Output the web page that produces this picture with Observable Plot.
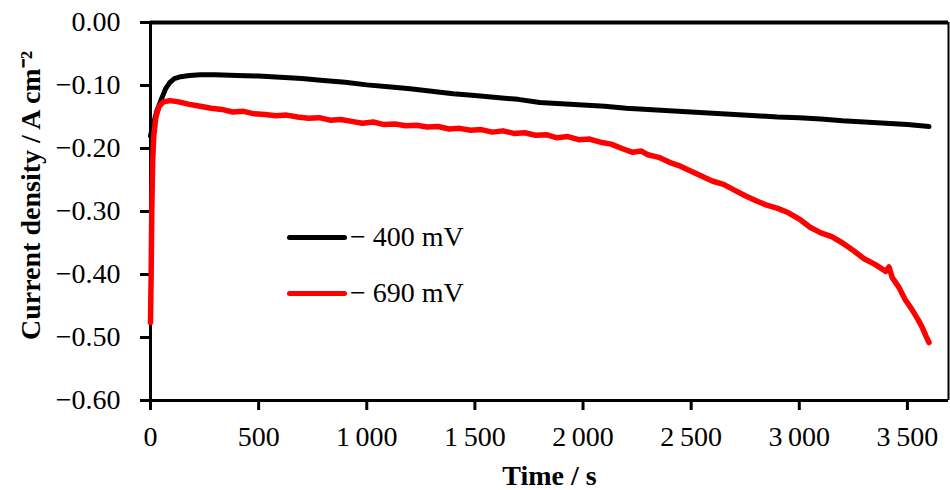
<!DOCTYPE html>
<html>
<head>
<meta charset="utf-8">
<script src="https://cdn.jsdelivr.net/npm/d3@7"></script>
<script src="https://cdn.jsdelivr.net/npm/@observablehq/plot@0.6"></script>
<style>
  html, body { margin: 0; padding: 0; background: #fff; }
  #wrap { position: relative; width: 950px; height: 490px; }
  #wrap svg [aria-label="x-axis label"] text,
  #wrap svg [aria-label="x-axis label"] { font-weight: bold; }
  .legend { position: absolute; left: 287px; top: 218px; font-family: "Palatino Linotype", "Book Antiqua", Palatino, "Liberation Serif", serif; font-size: 28px; color: #000; }
  .legend .row { display: flex; align-items: center; height: 38px; margin-bottom: 18px; }
  .legend .sw { display: inline-block; width: 60px; height: 5px; border-radius: 3px; margin-right: 3px; }
</style>
</head>
<body>
<div id="wrap"></div>
<script>
// Series: -400 mV (black)
const t400 = [0, 10, 30, 50, 70, 90, 110, 140, 180, 230, 300, 400, 500, 600, 700, 800, 900, 1000, 1100, 1200, 1300, 1400, 1500, 1600, 1700, 1800, 1900, 2000, 2100, 2200, 2300, 2400, 2500, 2600, 2700, 2800, 2900, 3000, 3100, 3200, 3300, 3400, 3500, 3600];
const j400 = [-0.180, -0.165, -0.140, -0.122, -0.105, -0.095, -0.089, -0.086, -0.084, -0.083, -0.083, -0.084, -0.085, -0.087, -0.089, -0.092, -0.095, -0.099, -0.102, -0.105, -0.109, -0.113, -0.116, -0.119, -0.122, -0.127, -0.129, -0.131, -0.133, -0.136, -0.138, -0.140, -0.142, -0.144, -0.146, -0.148, -0.150, -0.151, -0.153, -0.156, -0.158, -0.160, -0.162, -0.165];

// Series: -690 mV (red)
const t690 = [0, 3, 6, 10, 15, 25, 40, 60, 90, 130, 180, 230, 280, 330, 380, 430, 480, 530, 580, 630, 680, 730, 780, 830, 880, 930, 980, 1030, 1080, 1130, 1180, 1230, 1280, 1330, 1380, 1430, 1480, 1530, 1580, 1630, 1680, 1730, 1780, 1830, 1880, 1930, 1980, 2030, 2080, 2130, 2180, 2230, 2270, 2300, 2350, 2400, 2450, 2500, 2550, 2600, 2650, 2700, 2750, 2800, 2850, 2900, 2950, 3000, 3050, 3100, 3150, 3200, 3250, 3300, 3350, 3400, 3415, 3430, 3460, 3490, 3520, 3550, 3570, 3585, 3600];
const j690 = [-0.476, -0.400, -0.300, -0.220, -0.180, -0.150, -0.133, -0.126, -0.124, -0.126, -0.130, -0.133, -0.136, -0.138, -0.142, -0.141, -0.145, -0.146, -0.148, -0.147, -0.150, -0.152, -0.151, -0.155, -0.154, -0.157, -0.160, -0.158, -0.162, -0.161, -0.164, -0.163, -0.166, -0.165, -0.169, -0.168, -0.171, -0.170, -0.174, -0.172, -0.176, -0.175, -0.179, -0.178, -0.183, -0.181, -0.186, -0.185, -0.190, -0.193, -0.200, -0.206, -0.204, -0.210, -0.214, -0.222, -0.228, -0.236, -0.244, -0.252, -0.257, -0.266, -0.275, -0.283, -0.290, -0.295, -0.302, -0.312, -0.325, -0.334, -0.340, -0.350, -0.362, -0.375, -0.384, -0.395, -0.388, -0.405, -0.420, -0.440, -0.455, -0.472, -0.485, -0.497, -0.508];

const seriesNames = ["\u2212 400 mV", "\u2212 690 mV"];
const seriesColors = ["#000000", "#ff0000"];

const xTicks = [0, 500, 1000, 1500, 2000, 2500, 3000, 3500];
const yTicks = [0, -0.1, -0.2, -0.3, -0.4, -0.5, -0.6];
const xDomain = [0, 3690];
const yDomain = [-0.6, 0];
const xTitle = "Time / s";
const yTitle = "Current density / A cm\u207B\u00B2";

const d400 = t400.map((t, i) => ({t, j: j400[i]}));
const d690 = t690.map((t, i) => ({t, j: j690[i]}));

const loc = d3.formatLocale({decimal: ".", thousands: "\u2009", grouping: [3], currency: ["", ""], minus: "\u2212"});
const xFmt = v => v >= 1000 ? loc.format(",")(v) : String(v);
const yFmt = loc.format(".2f");

const font = '"Palatino Linotype", "Book Antiqua", Palatino, "Liberation Serif", serif';

const chart = Plot.plot({
  width: 950,
  height: 490,
  marginLeft: 150,
  marginRight: 2,
  marginTop: 22,
  marginBottom: 90,
  style: {fontFamily: font, fontSize: "28px", color: "#000", background: "#fff", overflow: "visible"},
  x: {domain: xDomain},
  y: {domain: yDomain},
  marks: [
    Plot.axisX({ticks: xTicks, tickFormat: xFmt, tickSize: 10, tickPadding: 16, strokeWidth: 3,
      label: xTitle, labelAnchor: "center", labelOffset: 84, labelArrow: "none"}),
    Plot.axisY({ticks: yTicks, tickFormat: yFmt, tickSize: 10, tickPadding: 20, strokeWidth: 3, label: null}),
    Plot.text([yTitle], {frameAnchor: "left", text: d => d, rotate: -90, dx: -119, dy: -16,
      textAnchor: "middle", lineAnchor: "middle",
      fontWeight: "bold", fontSize: 28, fill: "#000"}),
    Plot.ruleX([xDomain[0]], {stroke: "#000", strokeWidth: 3}),
    Plot.ruleY([yDomain[0]], {stroke: "#000", strokeWidth: 3}),
    Plot.ruleY([yDomain[1]], {stroke: "#000", strokeWidth: 4}),
    Plot.ruleX([xDomain[1]], {stroke: "#000", strokeWidth: 2}),
    Plot.line(d400, {x: "t", y: "j", stroke: seriesColors[0], strokeWidth: 5, strokeLinejoin: "round", strokeLinecap: "round"}),
    Plot.line(d690, {x: "t", y: "j", stroke: seriesColors[1], strokeWidth: 5.5, strokeLinejoin: "round", strokeLinecap: "round"})
  ]
});

const wrap = document.getElementById("wrap");
wrap.appendChild(chart);

const legend = document.createElement("div");
legend.className = "legend";
seriesNames.forEach((name, i) => {
  const row = document.createElement("div");
  row.className = "row";
  const sw = document.createElement("span");
  sw.className = "sw";
  sw.style.background = seriesColors[i];
  const lab = document.createElement("span");
  lab.textContent = name;
  row.appendChild(sw);
  row.appendChild(lab);
  legend.appendChild(row);
});
wrap.appendChild(legend);
</script>
</body>
</html>
